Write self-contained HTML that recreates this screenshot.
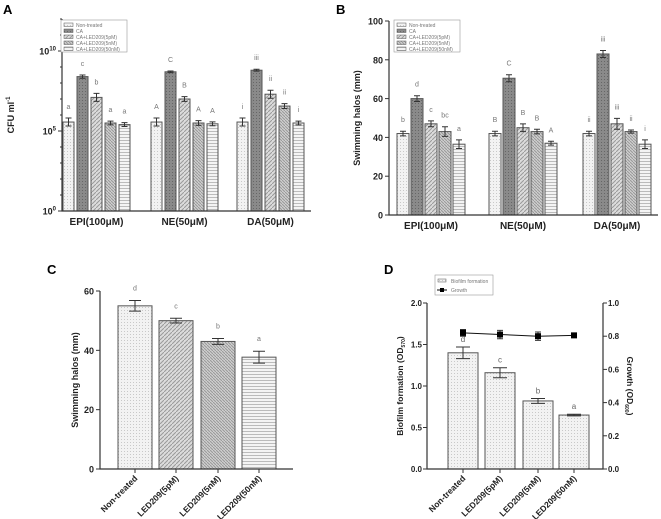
<!DOCTYPE html>
<html><head><meta charset="utf-8"><style>
html,body{margin:0;padding:0;background:#fff;}
svg{display:block;font-family:"Liberation Sans",Arial,sans-serif;}
</style></head><body>
<svg id="fig" width="661" height="519" viewBox="0 0 661 519" xmlns="http://www.w3.org/2000/svg">
<defs>
<pattern id="pDot" width="3" height="3" patternUnits="userSpaceOnUse"><rect width="3" height="3" fill="#f2f2f2"/><rect x="1" y="1" width="1" height="1" fill="#c8c8c8"/></pattern>
<pattern id="pCA" width="3" height="3" patternUnits="userSpaceOnUse"><rect width="3" height="3" fill="#8a8a8a"/><rect x="1" y="1" width="1" height="1" fill="#666"/></pattern>
<pattern id="pDiag" width="4" height="4" patternUnits="userSpaceOnUse"><rect width="4" height="4" fill="#dcdcdc"/><path d="M0,4 L4,0" stroke="#999" stroke-width="1"/></pattern>
<pattern id="pDiag2" width="3" height="3" patternUnits="userSpaceOnUse"><rect width="3" height="3" fill="#cfcfcf"/><path d="M0,0 L3,3" stroke="#999" stroke-width="1"/></pattern>
<pattern id="pHor" width="3" height="3" patternUnits="userSpaceOnUse"><rect width="3" height="3" fill="#f4f4f4"/><rect y="2" width="3" height="1" fill="#bbb"/></pattern>
</defs>
</svg>
<script>
// ---------- data ----------
const groupsAB = ["EPI(100\u03bcM)", "NE(50\u03bcM)", "DA(50\u03bcM)"];
const seriesNames = ["Non-treated", "CA", "CA+LED209(5pM)", "CA+LED209(5nM)", "CA+LED209(50nM)"];
// panel A: log10 CFU/ml
const aValues = [[5.56, 8.4, 7.1, 5.5, 5.4], [5.56, 8.7, 7.0, 5.5, 5.45], [5.56, 8.8, 7.3, 6.56, 5.5]];
const aErr = [[0.25, 0.1, 0.25, 0.12, 0.12], [0.25, 0.05, 0.15, 0.15, 0.12], [0.25, 0.06, 0.25, 0.15, 0.12]];
const aLetters = [["a", "c", "b", "a", "a"], ["A", "C", "B", "A", "A"], ["i", "iii", "ii", "ii", "i"]];
const aTicks = [0, 5, 10];
// panel B: swimming halos
const bValues = [[42, 60, 47, 43, 36.5], [42, 70.5, 45, 43, 37], [42, 83, 47, 43, 36.5]];
const bErr = [[1.2, 1.5, 1.5, 2.5, 2.2], [1.2, 1.8, 2, 1.2, 1], [1.2, 1.8, 2.8, 0.8, 2.2]];
const bLetters = [["b", "d", "c", "bc", "a"], ["B", "C", "B", "B", "A"], ["ii", "iii", "iii", "ii", "i"]];
const bTicks = [0, 20, 40, 60, 80, 100];
// panel C
const cCats = ["Non-treated", "LED209(5pM)", "LED209(5nM)", "LED209(50nM)"];
const cValues = [55, 50, 43, 37.7];
const cErr = [1.8, 0.8, 1, 2];
const cLetters = ["d", "c", "b", "a"];
const cTicks = [0, 20, 40, 60];
// panel D
const dBiofilm = [1.4, 1.16, 0.82, 0.65];
const dBiofilmErr = [0.07, 0.06, 0.03, 0.01];
const dGrowth = [0.82, 0.81, 0.80, 0.805];
const dGrowthErr = [0.02, 0.025, 0.025, 0.005];
const dLetters = ["d", "c", "b", "a"];
const dLeftTicks = [0, 0.5, 1.0, 1.5, 2.0];
const dRightTicks = [0, 0.2, 0.4, 0.6, 0.8, 1.0];

const fills = ["url(#pDot)", "url(#pCA)", "url(#pDiag)", "url(#pDiag2)", "url(#pHor)"];
const svg = document.getElementById('fig');
const NS = "http://www.w3.org/2000/svg";
function mk(tag, attrs, parent) {
  const e = document.createElementNS(NS, tag);
  for (const k in attrs) e.setAttribute(k, attrs[k]);
  (parent || svg).appendChild(e);
  return e;
}
function txt(s, x, y, size, opts, parent) {
  const e = mk('text', Object.assign({x: x, y: y, 'font-size': size, fill: '#222'}, opts || {}), parent);
  e.textContent = s;
  return e;
}
function errBar(g, cx, y1, y2, hw) {
  mk('path', {d: `M${cx},${y1}V${y2}M${cx-hw},${y1}H${cx+hw}M${cx-hw},${y2}H${cx+hw}`, stroke: '#333', 'stroke-width': 1, fill: 'none'}, g);
}

// ---------- panel letters ----------
[["A", 3, 14], ["B", 336, 14], ["C", 47, 274], ["D", 384, 274]].forEach(p => {
  const t = txt(p[0], p[1], p[2], 13, {'font-weight': 'bold', fill: '#000'});
  
  
});

// ---------- grouped panel builder ----------
function groupedPanel(opt) {
  const g = mk('g', {});
  
  
  const y = v => opt.y0 - (v - opt.vmin) / (opt.vmax - opt.vmin) * (opt.y0 - opt.yTop);
  opt.values.forEach((grp, gi) => {
    grp.forEach((v, si) => {
      const x = opt.groupStart[gi] + si * opt.step;
      const r = mk('rect', {x: x, y: y(v), width: opt.bw, height: opt.y0 - y(v), fill: fills[si], stroke: '#555', 'stroke-width': 1}, g);
      
      
      const cx = x + opt.bw / 2;
      errBar(g, cx, y(v + opt.err[gi][si]), y(v - opt.err[gi][si]), 3);
      const l = txt(opt.letters[gi][si], cx, y(v + opt.err[gi][si]) - 9, 7, {'text-anchor': 'middle', fill: '#777'}, g);
      
      
    });
    const gl = txt(opt.groups[gi], opt.groupStart[gi] + 2 * opt.step + opt.bw / 2, opt.y0 + 14, 10, {'text-anchor': 'middle', 'font-weight': 'bold', fill: '#222'}, g);
    
    
  });
  mk('path', {d: `M${opt.x0},${opt.yTop}V${opt.y0}H${opt.x1}`, stroke: '#333', 'stroke-width': 1.2, fill: 'none'}, g);
  opt.ticks.forEach(t => {
    mk('line', {x1: opt.x0 - 4, x2: opt.x0, y1: y(t), y2: y(t), stroke: '#333'}, g);
    const tl = txt('', opt.x0 - 6, y(t) + 3.5, 9, {'text-anchor': 'end', 'font-weight': 'bold'}, g);
    
    
    if (opt.log) {
      tl.textContent = '10';
      const sup = mk('tspan', {dy: -4, 'font-size': 6}, tl); sup.textContent = t;
    } else tl.textContent = opt.tickFmt(t);
  });
  if (opt.minor) opt.minor.forEach(t => mk('line', {x1: opt.x0 - 2, x2: opt.x0, y1: y(t), y2: y(t), stroke: '#333'}, g));
  const yt = txt('', opt.titleX, (opt.yTop + opt.y0) / 2, 9, {'text-anchor': 'middle', 'font-weight': 'bold', transform: `rotate(-90 ${opt.titleX} ${(opt.yTop + opt.y0) / 2})`}, g);
  
  
  if (opt.log) { yt.textContent = 'CFU ml'; const s = mk('tspan', {dy: -4, 'font-size': 6}, yt); s.textContent = '-1'; }
  else yt.textContent = opt.title;
  const lg = mk('g', {}, g);
  
  
  mk('rect', {x: opt.legX, y: opt.legY, width: 66, height: 32, fill: '#fff', stroke: '#999', 'stroke-width': 0.6}, lg);
  seriesNames.forEach((s, i) => {
    const yy = opt.legY + 4 + i * 6;
    mk('rect', {x: opt.legX + 3, y: yy - 1, width: 9, height: 3.5, fill: fills[i], stroke: '#555', 'stroke-width': 0.5}, lg);
    const e = txt(s, opt.legX + 15, yy + 3, 5, {fill: '#777'}, lg);
    
    
  });
}

groupedPanel({name: 'panel-a-chart', values: aValues, err: aErr, letters: aLetters, groups: groupsAB,
  vmin: 0, vmax: 12, y0: 211, yTop: 19, x0: 62, x1: 311, groupStart: [63, 151, 237], step: 14, bw: 11,
  ticks: aTicks, tickFmt: t => t, log: true, minor: [1,2,3,4,6,7,8,9,11,12], titleX: 14, legX: 61, legY: 20});
groupedPanel({name: 'panel-b-chart', values: bValues, err: bErr, letters: bLetters, groups: groupsAB,
  vmin: 0, vmax: 100, y0: 215, yTop: 21, x0: 389, x1: 658, groupStart: [397, 489, 583], step: 14, bw: 12,
  ticks: bTicks, tickFmt: t => t, log: false, title: 'Swimming halos (mm)', titleX: 360, legX: 394, legY: 20});

// ---------- panel C ----------
(function () {
  const g = mk('g', {});
  
  
  const y0 = 469, yTop = 291, x0 = 100, x1 = 293, starts = [118, 159, 201, 242], bw = 34;
  const y = v => y0 - v / 60 * (y0 - yTop);
  const cf = ["url(#pDot)", "url(#pDiag)", "url(#pDiag2)", "url(#pHor)"];
  cValues.forEach((v, i) => {
    const r = mk('rect', {x: starts[i], y: y(v), width: bw, height: y0 - y(v), fill: cf[i], stroke: '#555', 'stroke-width': 1}, g);
    
    
    const cx = starts[i] + bw / 2;
    errBar(g, cx, y(v + cErr[i]), y(v - cErr[i]), 6);
    const l = txt(cLetters[i], cx, y(v + cErr[i]) - 10, 7, {'text-anchor': 'middle', fill: '#777'}, g);
    
    
    mk('line', {x1: cx, x2: cx, y1: y0, y2: y0 + 4, stroke: '#333'}, g);
    const xl = txt(cCats[i], cx + 3, y0 + 10, 8.5, {'text-anchor': 'end', 'font-weight': 'bold', transform: `rotate(-45 ${cx + 3} ${y0 + 10})`}, g);
    
    
  });
  mk('path', {d: `M${x0},${yTop}V${y0}H${x1}`, stroke: '#333', 'stroke-width': 1.2, fill: 'none'}, g);
  cTicks.forEach(t => {
    mk('line', {x1: x0 - 4, x2: x0, y1: y(t), y2: y(t), stroke: '#333'}, g);
    const tl = txt(String(t), x0 - 6, y(t) + 3.5, 9, {'text-anchor': 'end', 'font-weight': 'bold'}, g);
    
    
  });
  const yt = txt('Swimming halos (mm)', 78, 380, 9, {'text-anchor': 'middle', 'font-weight': 'bold', transform: 'rotate(-90 78 380)'}, g);
  
  
})();

// ---------- panel D ----------
(function () {
  const g = mk('g', {});
  
  
  const y0 = 469, yTop = 303, x0 = 427, x1 = 603, starts = [448, 485, 523, 559], bw = 30;
  const yL = v => y0 - v / 2 * (y0 - yTop);
  const yR = v => y0 - v / 1 * (y0 - yTop);
  dBiofilm.forEach((v, i) => {
    const r = mk('rect', {x: starts[i], y: yL(v), width: bw, height: y0 - yL(v), fill: 'url(#pDot)', stroke: '#555', 'stroke-width': 1}, g);
    
    
    const cx = starts[i] + bw / 2;
    errBar(g, cx, yL(v + dBiofilmErr[i]), yL(v - dBiofilmErr[i]), 7);
    const l = txt(dLetters[i], cx, yL(v + dBiofilmErr[i]) - 5, 8, {'text-anchor': 'middle', fill: '#666'}, g);
    
    
    mk('line', {x1: cx, x2: cx, y1: y0, y2: y0 + 4, stroke: '#333'}, g);
    const xl = txt(cCats[i], cx + 3, y0 + 10, 8.5, {'text-anchor': 'end', 'font-weight': 'bold', transform: `rotate(-45 ${cx + 3} ${y0 + 10})`}, g);
    
    
  });
  let d = '';
  dGrowth.forEach((v, i) => { const cx = starts[i] + bw / 2; d += (i ? 'L' : 'M') + cx + ',' + yR(v); });
  const ln = mk('path', {d: d, stroke: '#111', 'stroke-width': 1, fill: 'none'}, g);
  
  
  dGrowth.forEach((v, i) => {
    const cx = starts[i] + bw / 2;
    errBar(g, cx, yR(v + dGrowthErr[i]), yR(v - dGrowthErr[i]), 3);
    const p = mk('rect', {x: cx - 3, y: yR(v) - 3, width: 6, height: 6, fill: '#000'}, g);
    
    
  });
  mk('path', {d: `M${x0},${yTop}V${y0}H${x1}V${yTop}`, stroke: '#333', 'stroke-width': 1.2, fill: 'none'}, g);
  dLeftTicks.forEach(t => {
    mk('line', {x1: x0 - 4, x2: x0, y1: yL(t), y2: yL(t), stroke: '#333'}, g);
    const tl = txt(t.toFixed(1), x0 - 5, yL(t) + 3, 8, {'text-anchor': 'end', 'font-weight': 'bold'}, g);
    
    
  });
  dRightTicks.forEach(t => {
    mk('line', {x1: x1, x2: x1 + 4, y1: yR(t), y2: yR(t), stroke: '#333'}, g);
    const tl = txt(t.toFixed(1), x1 + 5, yR(t) + 3, 8, {'font-weight': 'bold'}, g);
    
    
  });
  const yt = txt('Biofilm formation (OD', 403, 386, 8.5, {'text-anchor': 'middle', 'font-weight': 'bold', transform: 'rotate(-90 403 386)'}, g);
  const s1 = mk('tspan', {dy: 2, 'font-size': 5}, yt); s1.textContent = '570';
  const s1b = mk('tspan', {dy: -2}, yt); s1b.textContent = ')';
  
  
  const yt2 = txt('Growth (OD', 627, 386, 8.5, {'text-anchor': 'middle', 'font-weight': 'bold', transform: 'rotate(90 627 386)'}, g);
  const s2 = mk('tspan', {dy: 2, 'font-size': 5}, yt2); s2.textContent = '600';
  const s2b = mk('tspan', {dy: -2}, yt2); s2b.textContent = ')';
  
  
  const lg = mk('g', {}, g);
  
  
  mk('rect', {x: 435, y: 275, width: 58, height: 20, fill: '#fff', stroke: '#999', 'stroke-width': 0.6}, lg);
  mk('rect', {x: 438, y: 279, width: 8, height: 3, fill: 'url(#pDot)', stroke: '#555', 'stroke-width': 0.5}, lg);
  const e1 = txt('Biofilm formation', 451, 283, 5, {fill: '#777'}, lg);
  
  
  mk('line', {x1: 437, x2: 447, y1: 290, y2: 290, stroke: '#000'}, lg);
  mk('rect', {x: 440, y: 288, width: 4, height: 4, fill: '#000'}, lg);
  const e2 = txt('Growth', 451, 292, 5, {fill: '#777'}, lg);
  
  
})();
</script>
</body></html>
